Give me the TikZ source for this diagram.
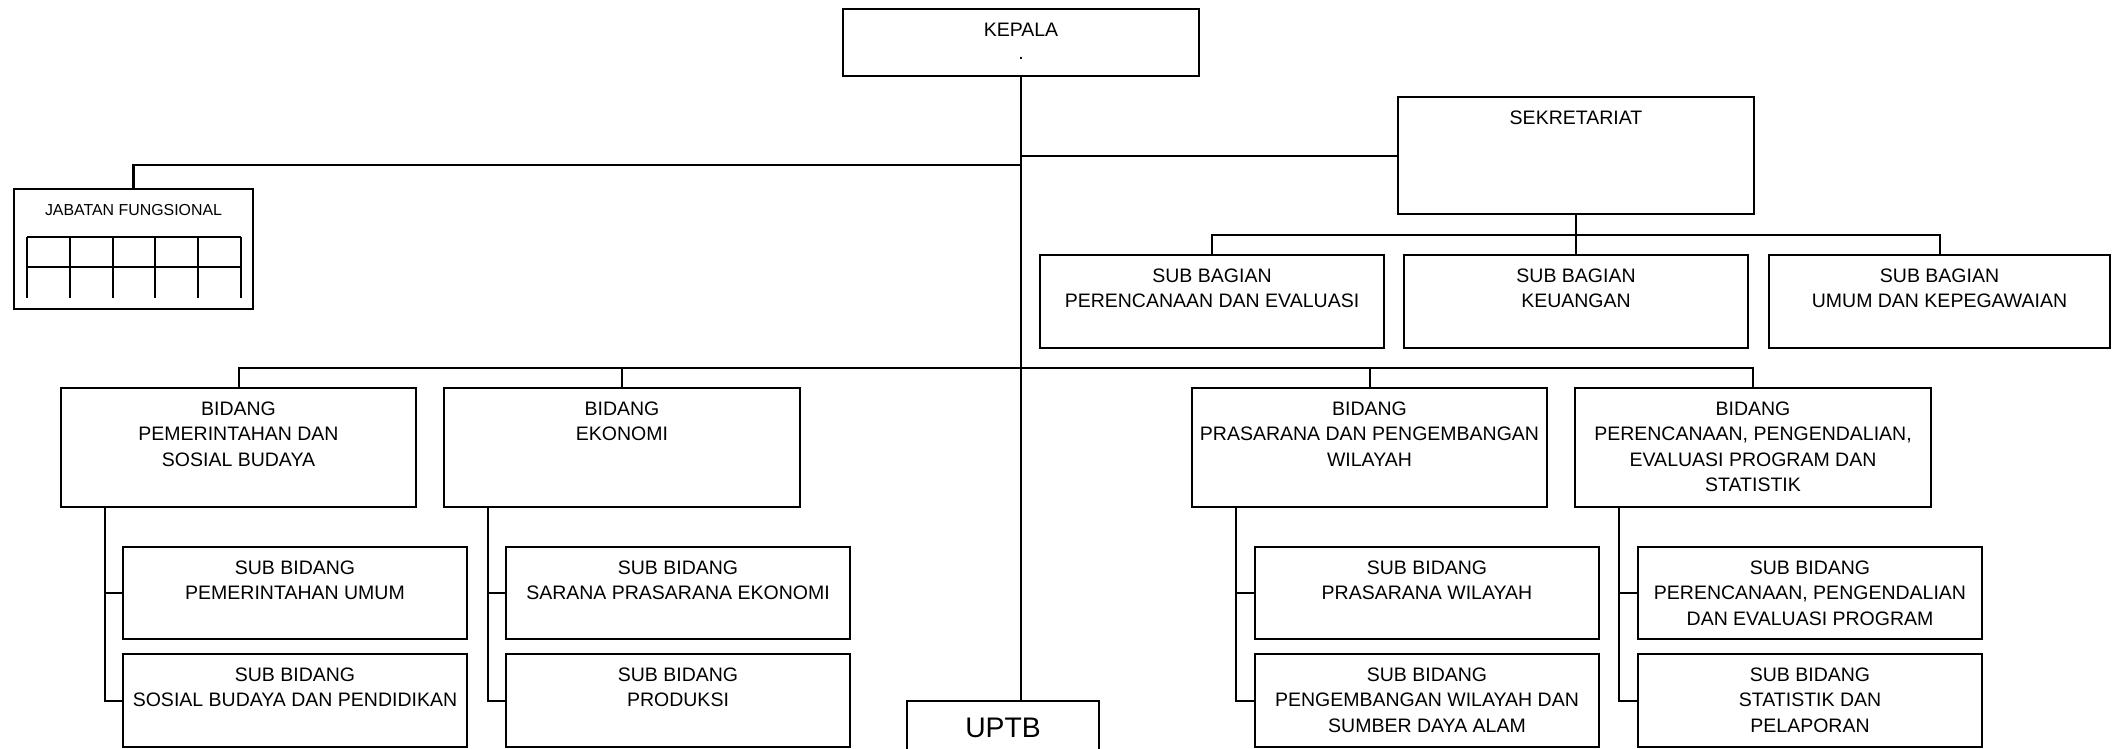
\documentclass[tikz,border=0pt]{standalone}
\usepackage{fontspec}
\setmainfont{Liberation Sans}
\usetikzlibrary{calc}

\newcommand\boxtxt[4][27pt]{\parbox[c][#3][t]{#2}{\centering\rule{0pt}{#1}#4\par}}

\tikzset{%
  orgbox/.style={draw, line width=1.9pt, inner sep=0pt, outer sep=0pt,
  anchor=north west, font=\fontsize{19.5}{25.5}\selectfont},%
  link/.style={line width=2pt},%
  thicklink/.style={line width=2.6pt}%
}

\begin{document}
\begin{tikzpicture}[x=1pt,y=-1pt] % org chart

    \useasboundingbox (0,0) rectangle (2112,748);
    \clip (0,0) rectangle (2112,748);

    % top level
    \node[orgbox] (kepala) at (843,9) {\boxtxt{356pt}{67pt}{KEPALA\\[-2pt].}};
    \node[orgbox] (sekr) at (1398,97) {\boxtxt{356pt}{117pt}{SEKRETARIAT}};
    \node[orgbox, line width=2.8pt, font=\fontsize{15.9}{20}\selectfont] (jab) at (14,189)
        {\boxtxt[26pt]{239pt}{120pt}{JABATAN FUNGSIONAL}};
    \node[orgbox, font=\fontsize{28.3}{32}\selectfont] (uptb) at (907,701)
        {\boxtxt[36pt]{192pt}{70pt}{UPTB}};

    % sub bagian
    \node[orgbox] (sb1) at (1040,255) {\boxtxt{344pt}{93pt}{SUB BAGIAN\\PERENCANAAN DAN EVALUASI}};
    \node[orgbox] (sb2) at (1404,255) {\boxtxt{344pt}{93pt}{SUB BAGIAN\\KEUANGAN}};
    \node[orgbox] (sb3) at (1769,255) {\boxtxt{341pt}{93pt}{SUB BAGIAN\\UMUM DAN KEPEGAWAIAN}};

    % bidang
    \node[orgbox] (bd1) at (61,388) {\boxtxt{355pt}{119pt}{BIDANG\\PEMERINTAHAN DAN\\SOSIAL BUDAYA}};
    \node[orgbox] (bd2) at (444,388) {\boxtxt{356pt}{119pt}{BIDANG\\EKONOMI}};
    \node[orgbox] (bd3) at (1192,388) {\boxtxt{355pt}{119pt}{BIDANG\\PRASARANA DAN PENGEMBANGAN\\WILAYAH}};
    \node[orgbox] (bd4) at (1575,388) {\boxtxt{356pt}{119pt}{BIDANG\\PERENCANAAN, PENGENDALIAN,\\EVALUASI PROGRAM DAN\\STATISTIK}};

    % sub bidang
    \node[orgbox] (s11) at (123,547) {\boxtxt{344pt}{92pt}{SUB BIDANG\\PEMERINTAHAN UMUM}};
    \node[orgbox] (s12) at (123,654) {\boxtxt{344pt}{93pt}{SUB BIDANG\\SOSIAL BUDAYA DAN PENDIDIKAN}};
    \node[orgbox] (s21) at (506,547) {\boxtxt{344pt}{92pt}{SUB BIDANG\\SARANA PRASARANA EKONOMI}};
    \node[orgbox] (s22) at (506,654) {\boxtxt{344pt}{93pt}{SUB BIDANG\\PRODUKSI}};
    \node[orgbox] (s31) at (1255,547) {\boxtxt{344pt}{92pt}{SUB BIDANG\\PRASARANA WILAYAH}};
    \node[orgbox] (s32) at (1255,654) {\boxtxt{344pt}{93pt}{SUB BIDANG\\PENGEMBANGAN WILAYAH DAN\\SUMBER DAYA ALAM}};
    \node[orgbox] (s41) at (1638,547) {\boxtxt{344pt}{92pt}{SUB BIDANG\\PERENCANAAN, PENGENDALIAN\\DAN EVALUASI PROGRAM}};
    \node[orgbox] (s42) at (1638,654) {\boxtxt{344pt}{93pt}{SUB BIDANG\\STATISTIK DAN\\PELAPORAN}};

    % lines
    \draw[link] (kepala.south) -- (kepala.south |- uptb.north);
    \draw[link] (sekr.west) -- (sekr.west -| kepala.south);
    \coordinate (jabjoin) at (1021,165);
    \draw[thicklink] (jabjoin) -| (jab.north);

    \coordinate (sekbus) at (1576,235);
    \draw[link] (sekr.south) -- (sekbus);
    \draw[link] (sb1.north) |- (sekbus) -| (sb3.north);
    \draw[link] (sekbus) -- (sb2.north);

    \coordinate (bidbus) at (1021,368);
    \draw[link] (bd1.north) |- (bidbus) -| (bd4.north);
    \draw[link] (bd2.north) -- (bd2.north |- bidbus);
    \draw[link] (bd3.north) -- (bd3.north |- bidbus);

    \foreach \b in {1,2,3,4}{
      \coordinate (sp\b) at ($(bd\b.south west)+(43.5,0)$);
      \draw[link] (sp\b) |- (s\b2.west);
      \draw[link] (s\b1.west) -| (sp\b);
    }

    % jabatan grid
    \draw[thicklink] (27,237) -- (241,237) (27,267) -- (241,267);
    \foreach \i in {0,...,5}
      \draw[link] ({27+\i*42.8},237) -- ++(0,61);

\end{tikzpicture}
\end{document}
